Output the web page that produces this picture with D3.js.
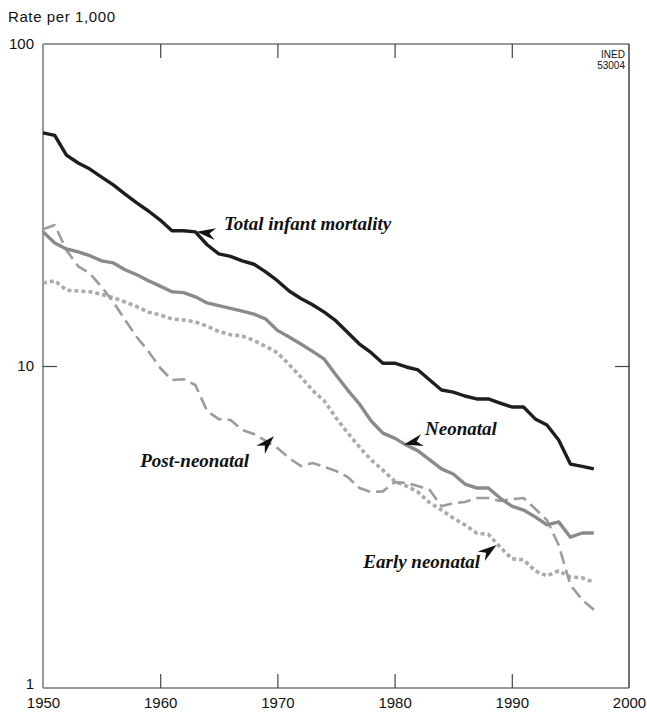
<!DOCTYPE html>
<html><head><meta charset="utf-8">
<script src="https://cdn.jsdelivr.net/npm/d3@7"></script>
<style>body{margin:0;background:#fff}svg{display:block}</style>
</head><body>
<script>
const years = d3.range(1950, 1998);
const total = [53.0,52.0,45.2,42.7,40.9,38.6,36.5,34.2,32.1,30.3,28.4,26.3,26.3,26.1,23.8,22.3,21.9,21.2,20.7,19.6,18.4,17.1,16.2,15.5,14.7,13.8,12.7,11.7,11.0,10.2,10.2,9.93,9.72,9.05,8.42,8.30,8.07,7.90,7.90,7.67,7.46,7.46,6.85,6.56,5.89,4.96,4.88,4.79];
const neonatal = [26.1,24.1,23.1,22.6,22.0,21.2,20.9,19.9,19.2,18.4,17.7,17.0,16.9,16.4,15.7,15.4,15.1,14.8,14.5,14.0,12.9,12.3,11.7,11.1,10.5,9.38,8.42,7.62,6.75,6.19,5.97,5.68,5.45,5.11,4.79,4.62,4.30,4.18,4.18,3.89,3.67,3.57,3.40,3.21,3.28,2.94,3.03,3.03];
const postNeonatal = [26.6,27.4,22.9,20.4,19.4,17.6,15.8,13.9,12.3,11.1,9.86,9.05,9.1,8.73,7.25,6.84,6.80,6.33,6.15,5.85,5.56,5.18,4.89,5.0,4.86,4.72,4.52,4.18,4.06,4.08,4.36,4.33,4.24,4.12,3.67,3.75,3.78,3.89,3.89,3.81,3.86,3.89,3.60,3.32,2.78,2.09,1.88,1.75];
const earlyNeonatal = [18.1,18.4,17.2,17.1,17.0,16.7,16.3,15.8,15.3,14.7,14.4,14.0,13.9,13.7,13.3,12.8,12.5,12.4,12.0,11.5,11.0,10.1,9.25,8.4,7.79,6.9,6.2,5.6,5.11,4.75,4.39,4.24,4.06,3.76,3.57,3.37,3.21,3.03,3.0,2.74,2.52,2.5,2.31,2.23,2.31,2.21,2.2,2.13];
const xTicks = [1950,1960,1970,1980,1990,2000];
const yTicks = [1,10,100];
const yLabels = ["1","10","100"];
const labels = [
  {text:"Total infant mortality", year:1963.1, value:26.1, anchorYear:1966.5, anchorValue:25.2},
  {text:"Neonatal", year:1980.8, value:5.7, anchorYear:1983.3, anchorValue:6.0},
  {text:"Post-neonatal", year:1969.7, value:6.05, anchorYear:1967.7, anchorValue:5.1},
  {text:"Early neonatal", year:1988.7, value:2.78, anchorYear:1987.3, anchorValue:2.55}
];

(function(){
const W = 647, H = 713;
const m = {left:43, right:W-629, top:44, bottom:H-688};
const svg = d3.select("body").append("svg").attr("width", W).attr("height", H);
const x = d3.scaleLinear().domain([1950,2000]).range([m.left, W-m.right]);
const y = d3.scaleLog().domain([1,100]).range([H-m.bottom, m.top]);
const sans = "'Liberation Sans', Arial, Helvetica, sans-serif";

const fx0 = x(1950), fx1 = x(2000), fy0 = y(100), fy1 = y(1);
svg.append("line").attr("x1",fx0).attr("x2",fx1).attr("y1",fy0).attr("y2",fy0).attr("stroke","#777").attr("stroke-width",1.5);
svg.append("line").attr("x1",fx0).attr("x2",fx1).attr("y1",fy1).attr("y2",fy1).attr("stroke","#777").attr("stroke-width",1.5);
svg.append("line").attr("x1",fx0).attr("x2",fx0).attr("y1",fy0).attr("y2",fy1).attr("stroke","#777").attr("stroke-width",1.5);
svg.append("line").attr("x1",fx1).attr("x2",fx1).attr("y1",fy0).attr("y2",fy1).attr("stroke","#222").attr("stroke-width",1.3);

const gBottom = svg.append("g").attr("transform",`translate(0,${fy1})`)
  .call(d3.axisBottom(x).tickValues(xTicks).tickFormat(d3.format("d")).tickSize(-14).tickPadding(9));
const gTop = svg.append("g").attr("transform",`translate(0,${fy0})`)
  .call(d3.axisTop(x).tickValues(xTicks.slice(1,-1)).tickFormat("").tickSize(-14));
const gLeft = svg.append("g").attr("transform",`translate(${fx0},0)`)
  .call(d3.axisLeft(y).tickValues(yTicks).tickFormat((d,i)=>yLabels[i]).tickSize(-14).tickPadding(9));
const gRight = svg.append("g").attr("transform",`translate(${fx1},0)`)
  .call(d3.axisRight(y).tickValues([10]).tickFormat("").tickSize(-14));
[gBottom,gTop,gLeft,gRight].forEach(g=>{
  g.select(".domain").remove();
  g.selectAll(".tick line").attr("stroke","#444").attr("stroke-width",1.2);
  g.selectAll("text").attr("font-family",sans).attr("font-size",15).attr("fill","#111");
});
gLeft.selectAll(".tick line").filter(d=>d!==10).remove();
gLeft.selectAll(".tick text").filter(d=>d===1).attr("dy","0.05em");
gBottom.selectAll(".tick line").filter(d=>d===1950||d===2000).remove();
gBottom.selectAll("text").attr("dy","0.71em");

svg.append("text").attr("x",8).attr("y",22).text("Rate per 1,000")
  .attr("font-family",sans).attr("font-size",15).attr("letter-spacing",0.6).attr("fill","#111");
svg.append("text").attr("x",625).attr("y",57.5).attr("text-anchor","end").text("INED")
  .attr("font-family",sans).attr("font-size",10).attr("fill","#111");
svg.append("text").attr("x",625).attr("y",68.5).attr("text-anchor","end").text("53004")
  .attr("font-family",sans).attr("font-size",10).attr("fill","#111");

const line = d3.line().x((d,i)=>x(years[i])).y(d=>y(d));
const series = [
  {data:earlyNeonatal, color:"#ababab", w:3.6, dash:"4,3"},
  {data:postNeonatal, color:"#9c9c9c", w:2.6, dash:"13,6"},
  {data:neonatal, color:"#8a8a8a", w:3.4, dash:null},
  {data:total, color:"#1e1e1e", w:3.4, dash:null}
];
series.forEach(s=>{
  svg.append("path").datum(s.data).attr("d",line).attr("fill","none")
    .attr("stroke",s.color).attr("stroke-width",s.w).attr("stroke-linejoin","round")
    .attr("stroke-dasharray",s.dash);
});

labels.forEach(l=>{
  const tx = x(l.year), ty = y(l.value);
  const bx = x(l.anchorYear), by = y(l.anchorValue);
  const ang = Math.atan2(ty-by, tx-bx)*180/Math.PI;
  svg.append("path").attr("d","M0,0 L-19,-6 L-13,0 L-19,6 Z").attr("fill","#111")
    .attr("transform",`translate(${tx},${ty}) rotate(${ang})`);
});
const lblPos = [
  {x:224, y:230, a:"start"},
  {x:425, y:435, a:"start"},
  {x:249, y:467, a:"end"},
  {x:480, y:568, a:"end"}
];
labels.forEach((l,i)=>{
  svg.append("text").attr("x",lblPos[i].x).attr("y",lblPos[i].y).attr("text-anchor",lblPos[i].a)
    .text(l.text).attr("font-family","'Liberation Serif','Times New Roman',serif")
    .attr("font-weight","bold").attr("font-style","italic").attr("font-size",19).attr("fill","#111");
});
})();
</script>
</body></html>
